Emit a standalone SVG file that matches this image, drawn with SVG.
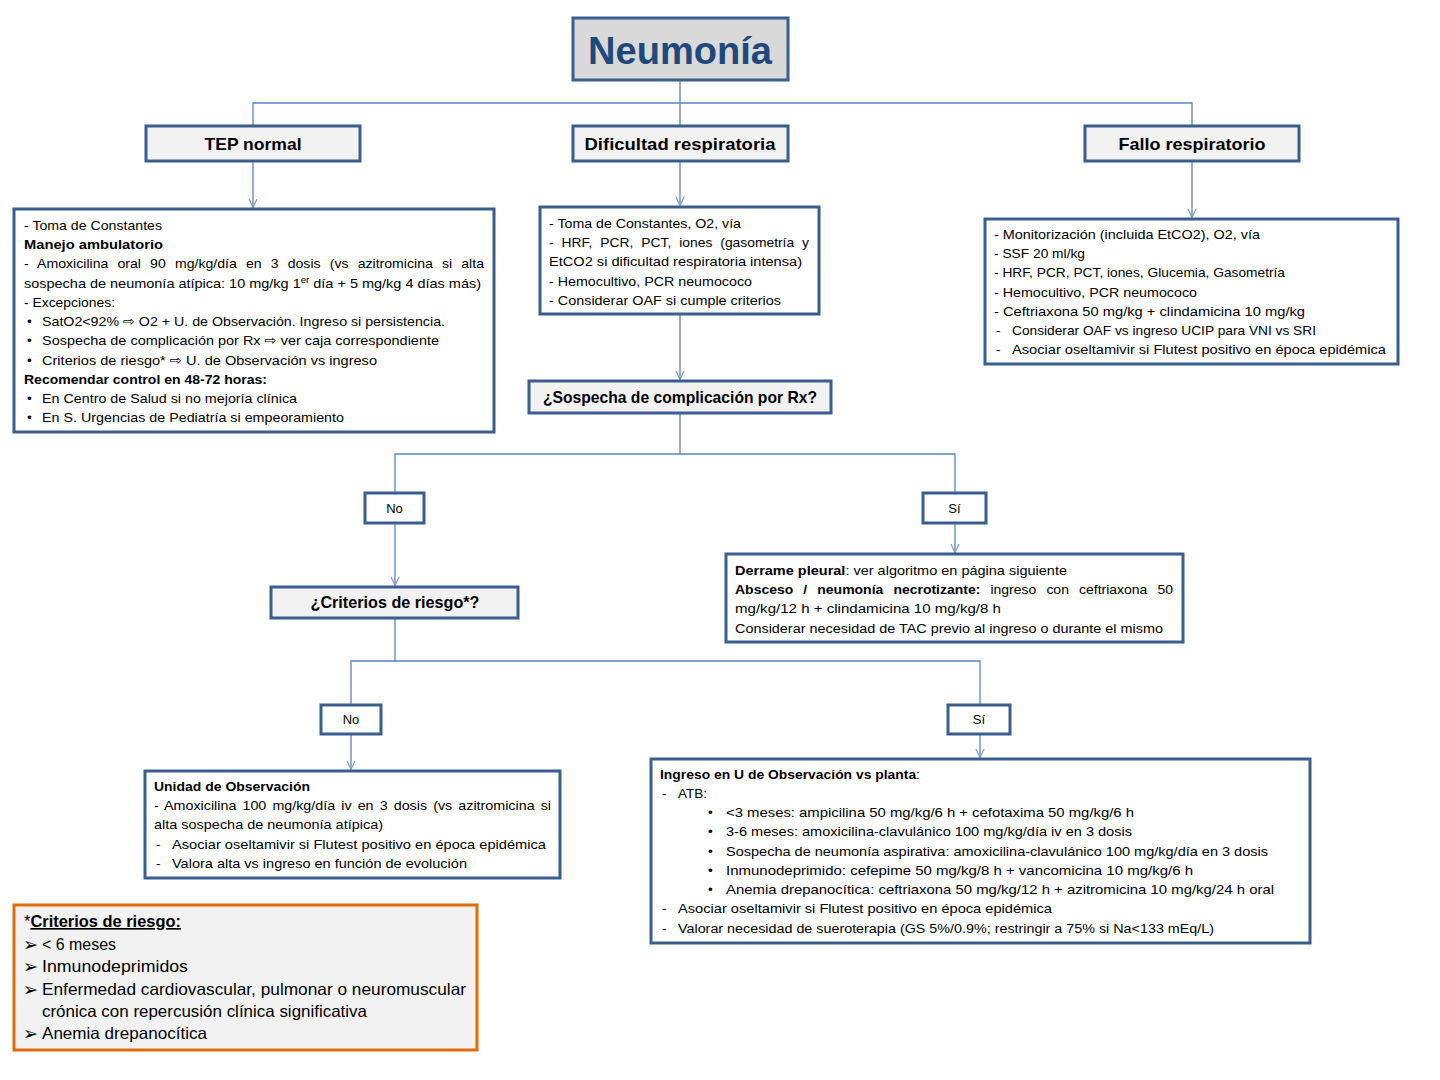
<svg xmlns="http://www.w3.org/2000/svg" width="1440" height="1080" viewBox="0 0 1440 1080">
<style>
.box{fill:#ffffff;stroke:#3b5f8c;stroke-width:3}
.hdr{fill:#f2f2f2;stroke:#3b5f8c;stroke-width:3}
.ttl{fill:#d9d9d9;stroke:#3b5f8c;stroke-width:3}
.crit{fill:#f2f2f2;stroke:#e36c0a;stroke-width:3}
.ln{fill:none;stroke:#5a85bf;stroke-width:1.3}
.t{font-family:"Liberation Sans",Arial,"DejaVu Sans",sans-serif;font-size:13.5px;fill:#000}
.b{font-weight:bold}
.h{font-family:"Liberation Sans",Arial,sans-serif;font-size:17px;font-weight:bold;fill:#000;text-anchor:middle}
.s{font-family:"Liberation Sans",Arial,sans-serif;font-size:13px;fill:#000;text-anchor:middle}
.c{font-family:"Liberation Sans",Arial,"DejaVu Sans",sans-serif;font-size:16.5px;fill:#000}
.ar{font-family:"DejaVu Sans",sans-serif;font-size:19px;fill:#000}
</style>
<defs>
<marker id="arr" viewBox="0 0 10 10" refX="10" refY="5" markerWidth="10" markerHeight="10" markerUnits="userSpaceOnUse" orient="auto">
<path d="M1,1 L9.5,5 L1,9" fill="none" stroke="#7f9fce" stroke-width="1.3"/>
</marker>
</defs>
<rect width="1440" height="1080" fill="#ffffff"/>

<g id="connectors">
<path class="ln" d="M680,80 V103 M253,126 V103 H1192 V126 M680,103 V126"/>
<path class="ln" d="M253,161 V208" marker-end="url(#arr)"/>
<path class="ln" d="M680,161 V206" marker-end="url(#arr)"/>
<path class="ln" d="M1192,161 V218" marker-end="url(#arr)"/>
<path class="ln" d="M680,314 V380" marker-end="url(#arr)"/>
<path class="ln" d="M680,413 V454 H395 V493 M680,454 H955 V493"/>
<path class="ln" d="M395,523 V586" marker-end="url(#arr)"/>
<path class="ln" d="M955,523 V553" marker-end="url(#arr)"/>
<path class="ln" d="M395,618 V661 H351 V705 M395,661 H980 V705"/>
<path class="ln" d="M351,734 V770" marker-end="url(#arr)"/>
<path class="ln" d="M980,734 V758" marker-end="url(#arr)"/>
</g>

<g id="title">
<rect class="ttl" x="573" y="18" width="215" height="62"/>
<text x="680" y="64" text-anchor="middle" font-family="Liberation Sans,Arial,sans-serif" font-size="38" font-weight="bold" fill="#1f497d" textLength="184" lengthAdjust="spacingAndGlyphs">Neumonía</text>
</g>

<g id="tep-normal">
<rect class="hdr" x="146" y="126" width="214" height="35"/>
<text class="h" x="253" y="150" textLength="97" lengthAdjust="spacingAndGlyphs">TEP normal</text>
</g>
<g id="dificultad">
<rect class="hdr" x="573" y="126" width="215" height="35"/>
<text class="h" x="680" y="150" textLength="191" lengthAdjust="spacingAndGlyphs">Dificultad respiratoria</text>
</g>
<g id="fallo">
<rect class="hdr" x="1085" y="126" width="214" height="35"/>
<text class="h" x="1192" y="150" textLength="147" lengthAdjust="spacingAndGlyphs">Fallo respiratorio</text>
</g>

<g id="tep-box">
<rect class="box" x="14" y="209" width="480" height="223"/>
<text class="t" x="24" y="230" textLength="138" lengthAdjust="spacingAndGlyphs">- Toma de Constantes</text>
<text class="t b" x="24" y="249" textLength="139" lengthAdjust="spacingAndGlyphs">Manejo ambulatorio</text>
<text class="t" x="24" y="268" word-spacing="5" textLength="460" lengthAdjust="spacingAndGlyphs">- Amoxicilina oral 90 mg/kg/día en 3 dosis (vs azitromicina si alta</text>
<text class="t" x="24" y="288" textLength="457" lengthAdjust="spacingAndGlyphs">sospecha de neumonía atípica: 10 mg/kg 1<tspan font-size="9" dy="-5">er</tspan><tspan dy="5"> día + 5 mg/kg 4 días más)</tspan></text>
<text class="t" x="24" y="307" textLength="91" lengthAdjust="spacingAndGlyphs">- Excepciones:</text>
<text class="t" x="27" y="326">•</text>
<text class="t" x="42" y="326" textLength="403" lengthAdjust="spacingAndGlyphs">SatO2&lt;92% ⇨ O2 + U. de Observación. Ingreso si persistencia.</text>
<text class="t" x="27" y="345">•</text>
<text class="t" x="42" y="345" textLength="397" lengthAdjust="spacingAndGlyphs">Sospecha de complicación por Rx ⇨ ver caja correspondiente</text>
<text class="t" x="27" y="365">•</text>
<text class="t" x="42" y="365" textLength="335" lengthAdjust="spacingAndGlyphs">Criterios de riesgo* ⇨ U. de Observación vs ingreso</text>
<text class="t b" x="24" y="384" textLength="243" lengthAdjust="spacingAndGlyphs">Recomendar control en 48-72 horas:</text>
<text class="t" x="27" y="403">•</text>
<text class="t" x="42" y="403" textLength="255" lengthAdjust="spacingAndGlyphs">En Centro de Salud si no mejoría clínica</text>
<text class="t" x="27" y="422">•</text>
<text class="t" x="42" y="422" textLength="302" lengthAdjust="spacingAndGlyphs">En S. Urgencias de Pediatría si empeoramiento</text>
</g>

<g id="dificultad-box">
<rect class="box" x="540" y="207" width="279" height="107"/>
<text class="t" x="549" y="228" textLength="192" lengthAdjust="spacingAndGlyphs">- Toma de Constantes, O2, vía</text>
<text class="t" x="549" y="247" word-spacing="4" textLength="260" lengthAdjust="spacingAndGlyphs">- HRF, PCR, PCT, iones (gasometría y</text>
<text class="t" x="549" y="266" textLength="253" lengthAdjust="spacingAndGlyphs">EtCO2 si dificultad respiratoria intensa)</text>
<text class="t" x="549" y="286" textLength="203" lengthAdjust="spacingAndGlyphs">- Hemocultivo, PCR neumococo</text>
<text class="t" x="549" y="305" textLength="232" lengthAdjust="spacingAndGlyphs">- Considerar OAF si cumple criterios</text>
</g>

<g id="fallo-box">
<rect class="box" x="985" y="219" width="413" height="145"/>
<text class="t" x="994" y="239" textLength="266" lengthAdjust="spacingAndGlyphs">- Monitorización (incluida EtCO2), O2, vía</text>
<text class="t" x="994" y="258" textLength="91" lengthAdjust="spacingAndGlyphs">- SSF 20 ml/kg</text>
<text class="t" x="994" y="277" textLength="291" lengthAdjust="spacingAndGlyphs">- HRF, PCR, PCT, iones, Glucemia, Gasometría</text>
<text class="t" x="994" y="297" textLength="203" lengthAdjust="spacingAndGlyphs">- Hemocultivo, PCR neumococo</text>
<text class="t" x="994" y="316" textLength="311" lengthAdjust="spacingAndGlyphs">- Ceftriaxona 50 mg/kg + clindamicina 10 mg/kg</text>
<text class="t" x="996" y="335">-</text>
<text class="t" x="1012" y="335" textLength="304" lengthAdjust="spacingAndGlyphs">Considerar OAF vs ingreso UCIP para VNI vs SRI</text>
<text class="t" x="996" y="354">-</text>
<text class="t" x="1012" y="354" textLength="374" lengthAdjust="spacingAndGlyphs">Asociar oseltamivir si Flutest positivo en época epidémica</text>
</g>

<g id="sospecha">
<rect class="hdr" x="529" y="381" width="302" height="32"/>
<text class="h" x="680" y="403" font-size="16" textLength="274" lengthAdjust="spacingAndGlyphs">¿Sospecha de complicación por Rx?</text>
</g>

<g id="no1">
<rect class="box" x="365" y="493" width="59" height="30"/>
<text class="s" x="394.5" y="513">No</text>
</g>
<g id="si1">
<rect class="box" x="923" y="493" width="63" height="30"/>
<text class="s" x="954.5" y="513">Sí</text>
</g>

<g id="derrame-box">
<rect class="box" x="726" y="554" width="457" height="88"/>
<text class="t" x="735" y="575" textLength="332" lengthAdjust="spacingAndGlyphs"><tspan class="b">Derrame pleural</tspan>: ver algoritmo en página siguiente</text>
<text class="t" x="735" y="594" word-spacing="6" textLength="438" lengthAdjust="spacingAndGlyphs"><tspan class="b">Absceso / neumonía necrotizante:</tspan> ingreso con ceftriaxona 50</text>
<text class="t" x="735" y="613" textLength="266" lengthAdjust="spacingAndGlyphs">mg/kg/12 h + clindamicina 10 mg/kg/8 h</text>
<text class="t" x="735" y="633" textLength="428" lengthAdjust="spacingAndGlyphs">Considerar necesidad de TAC previo al ingreso o durante el mismo</text>
</g>

<g id="criterios">
<rect class="hdr" x="271" y="587" width="247" height="31"/>
<text class="h" x="395" y="608" font-size="16" textLength="169" lengthAdjust="spacingAndGlyphs">¿Criterios de riesgo*?</text>
</g>

<g id="no2">
<rect class="box" x="321" y="705" width="60" height="29"/>
<text class="s" x="351" y="724">No</text>
</g>
<g id="si2">
<rect class="box" x="948" y="705" width="62" height="29"/>
<text class="s" x="979" y="724">Sí</text>
</g>

<g id="unidad-box">
<rect class="box" x="145" y="771" width="415" height="107"/>
<text class="t b" x="154" y="791" textLength="156" lengthAdjust="spacingAndGlyphs">Unidad de Observación</text>
<text class="t" x="154" y="810" word-spacing="2" textLength="397" lengthAdjust="spacingAndGlyphs">- Amoxicilina 100 mg/kg/día iv en 3 dosis (vs azitromicina si</text>
<text class="t" x="154" y="829" textLength="229" lengthAdjust="spacingAndGlyphs">alta sospecha de neumonía atípica)</text>
<text class="t" x="156" y="849">-</text>
<text class="t" x="172" y="849" textLength="374" lengthAdjust="spacingAndGlyphs">Asociar oseltamivir si Flutest positivo en época epidémica</text>
<text class="t" x="156" y="868">-</text>
<text class="t" x="172" y="868" textLength="295" lengthAdjust="spacingAndGlyphs">Valora alta vs ingreso en función de evolución</text>
</g>

<g id="ingreso-box">
<rect class="box" x="651" y="759" width="659" height="184"/>
<text class="t" x="660" y="779" textLength="260" lengthAdjust="spacingAndGlyphs"><tspan class="b">Ingreso en U de Observación vs planta</tspan>:</text>
<text class="t" x="662" y="798">-</text>
<text class="t" x="678" y="798" textLength="29" lengthAdjust="spacingAndGlyphs">ATB:</text>
<text class="t" x="708" y="817">•</text>
<text class="t" x="726" y="817" textLength="408" lengthAdjust="spacingAndGlyphs">&lt;3 meses: ampicilina 50 mg/kg/6 h + cefotaxima 50 mg/kg/6 h</text>
<text class="t" x="708" y="836">•</text>
<text class="t" x="726" y="836" textLength="406" lengthAdjust="spacingAndGlyphs">3-6 meses: amoxicilina-clavulánico 100 mg/kg/día iv en 3 dosis</text>
<text class="t" x="708" y="856">•</text>
<text class="t" x="726" y="856" textLength="542" lengthAdjust="spacingAndGlyphs">Sospecha de neumonía aspirativa: amoxicilina-clavulánico 100 mg/kg/día en 3 dosis</text>
<text class="t" x="708" y="875">•</text>
<text class="t" x="726" y="875" textLength="467" lengthAdjust="spacingAndGlyphs">Inmunodeprimido: cefepime 50 mg/kg/8 h + vancomicina 10 mg/kg/6 h</text>
<text class="t" x="708" y="894">•</text>
<text class="t" x="726" y="894" textLength="548" lengthAdjust="spacingAndGlyphs">Anemia drepanocítica: ceftriaxona 50 mg/kg/12 h + azitromicina 10 mg/kg/24 h oral</text>
<text class="t" x="662" y="913">-</text>
<text class="t" x="678" y="913" textLength="374" lengthAdjust="spacingAndGlyphs">Asociar oseltamivir si Flutest positivo en época epidémica</text>
<text class="t" x="662" y="933">-</text>
<text class="t" x="678" y="933" textLength="536" lengthAdjust="spacingAndGlyphs">Valorar necesidad de sueroterapia (GS 5%/0.9%; restringir a 75% si Na&lt;133 mEq/L)</text>
</g>

<g id="criterios-riesgo">
<rect class="crit" x="14" y="905" width="463" height="145"/>
<text class="c" x="24" y="927" textLength="157" lengthAdjust="spacingAndGlyphs">*<tspan font-weight="bold" text-decoration="underline">Criterios de riesgo:</tspan></text>
<text class="ar" x="23" y="951" textLength="15" lengthAdjust="spacingAndGlyphs">➢</text>
<text class="c" x="42" y="950" textLength="74" lengthAdjust="spacingAndGlyphs">&lt; 6 meses</text>
<text class="ar" x="23" y="973" textLength="15" lengthAdjust="spacingAndGlyphs">➢</text>
<text class="c" x="42" y="972" textLength="146" lengthAdjust="spacingAndGlyphs">Inmunodeprimidos</text>
<text class="ar" x="23" y="996" textLength="15" lengthAdjust="spacingAndGlyphs">➢</text>
<text class="c" x="42" y="995" textLength="424" lengthAdjust="spacingAndGlyphs">Enfermedad cardiovascular, pulmonar o neuromuscular</text>
<text class="c" x="42" y="1017" textLength="325" lengthAdjust="spacingAndGlyphs">crónica con repercusión clínica significativa</text>
<text class="ar" x="23" y="1040" textLength="15" lengthAdjust="spacingAndGlyphs">➢</text>
<text class="c" x="42" y="1039" textLength="165" lengthAdjust="spacingAndGlyphs">Anemia drepanocítica</text>
</g>
</svg>
